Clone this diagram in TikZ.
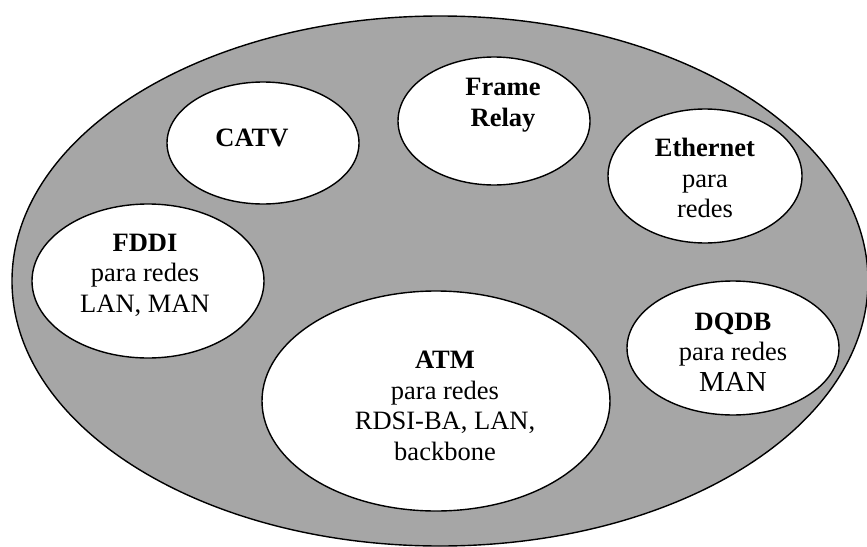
\documentclass[tikz,border=0pt]{standalone}
\usepackage{fontspec}
\setmainfont{Liberation Serif}
\usetikzlibrary{shapes.geometric}
\definecolor{fieldgray}{RGB}{166,166,166}
\tikzset{
  net/.style={ellipse, draw=black, line width=1.4pt, fill=white, inner sep=0pt},
  lbl/.style={align=center, font=\fontsize{26.5}{30.5}\selectfont, inner sep=0pt},
}
\begin{document}
\begin{tikzpicture}[x=1pt, y=-1pt]
\useasboundingbox (0,0) rectangle (867,546);
% surrounding field
\node[ellipse, draw=black, line width=1.4pt, fill=fieldgray, minimum width=856pt, minimum height=530pt, inner sep=0pt] (field) at (440,281) {};
% technologies
\node[net, minimum width=192pt, minimum height=122pt] (catv) at (263,143) {};
\node[net, minimum width=192pt, minimum height=128pt] (frame) at (494,121) {};
\node[net, minimum width=194pt, minimum height=134pt] (eth) at (705,176) {};
\node[net, minimum width=232pt, minimum height=154pt] (fddi) at (148,281) {};
\node[net, minimum width=348pt, minimum height=220pt] (atm) at (436,401) {};
\node[net, minimum width=212pt, minimum height=134pt] (dqdb) at (733,348) {};
% labels
\node[lbl] (catv-t) at (252,138) {\textbf{CATV}};
\node[lbl] (frame-t) at (503,105) {\textbf{Frame}\\\textbf{Relay}};
\node[lbl] (eth-t) at (705,178) {\textbf{Ethernet}\\para\\redes};
\node[lbl] (fddi-t) at (145,275) {\textbf{FDDI}\\para redes\\LAN, MAN};
\node[lbl] (dqdb-t) at (733,352) {\textbf{DQDB}\\para redes\\{\fontsize{29}{30.5}\selectfont MAN}};
\node[lbl] (atm-t) at (445,406) {\textbf{ATM}\\para redes\\RDSI-BA, LAN,\\backbone};
\end{tikzpicture}
\end{document}
